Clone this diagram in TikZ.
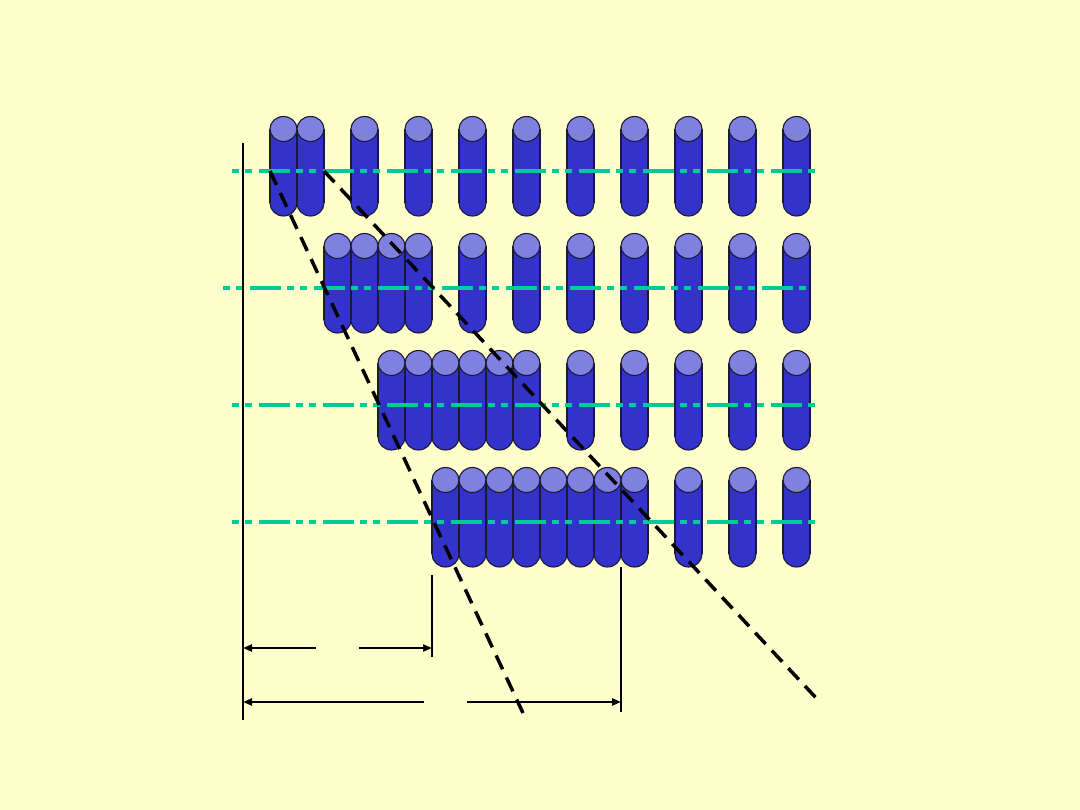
\documentclass[tikz,border=0pt]{standalone}
\usetikzlibrary{arrows.meta}
\definecolor{bg}{HTML}{FFFFCC}
\definecolor{cylbody}{HTML}{3333CC}
\definecolor{cyltop}{HTML}{8080E0}
\definecolor{cyledge}{HTML}{1A1A33}
\definecolor{axisgreen}{HTML}{00CC99}
\tikzset{
  cyl/.pic={
    \filldraw[fill=cylbody,draw=cyledge,line width=1.1pt] (0,74) ellipse[x radius=13.5,y radius=13];
    \fill[cylbody] (-13.5,0) rectangle (13.5,74);
    \draw[cyledge,line width=1.1pt] (-13.5,0) -- (-13.5,74) (13.5,0) -- (13.5,74);
    \filldraw[fill=cyltop,draw=cyledge,line width=1.1pt] (0,0) ellipse[x radius=13.5,y radius=12.5];
  },
  axisline/.style={axisgreen,line width=3.5pt,
    dash pattern=on 31pt off 6.5pt on 6.5pt off 6.5pt on 6.5pt off 7pt,dash phase=37.5pt},
  slantline/.style={black,line width=3.5pt,dash pattern=on 15.3pt off 9pt},
  refline/.style={black,line width=2.2pt},
  dimarrow/.style={black,line width=2.2pt,-{Triangle[length=9pt,width=7pt]}}
}
\begin{document}
\begin{tikzpicture}[x=1pt,y=-1pt]
\fill[bg] (0,0) rectangle (1080,810);
\useasboundingbox (0,0) rectangle (1080,810);
% row 1
\foreach \x in {283.5,310.5,364.5,418.5,472.5,526.5,580.5,634.5,688.5,742.5,796.5}
  \pic at (\x,129) {cyl};
% row 2
\foreach \x in {337.5,364.5,391.5,418.5,472.5,526.5,580.5,634.5,688.5,742.5,796.5}
  \pic at (\x,246) {cyl};
% row 3
\foreach \x in {391.5,418.5,445.5,472.5,499.5,526.5,580.5,634.5,688.5,742.5,796.5}
  \pic at (\x,363) {cyl};
% row 4
\foreach \x in {445.5,472.5,499.5,526.5,553.5,580.5,607.5,634.5,688.5,742.5,796.5}
  \pic at (\x,480) {cyl};
% axes
\coordinate (g1a) at (232,171); \coordinate (g1b) at (817,171);
\coordinate (g2a) at (223,288); \coordinate (g2b) at (808,288);
\coordinate (g3a) at (232,405); \coordinate (g3b) at (817,405);
\coordinate (g4a) at (232,522); \coordinate (g4b) at (817,522);
\draw[axisline] (g1a) -- (g1b);
\draw[axisline] (g2a) -- (g2b);
\draw[axisline] (g3a) -- (g3b);
\draw[axisline] (g4a) -- (g4b);
% reference lines
\coordinate (v0a) at (243,143); \coordinate (v0b) at (243,720);
\coordinate (v1a) at (432,575); \coordinate (v1b) at (432,657);
\coordinate (v2a) at (621,567); \coordinate (v2b) at (621,712);
\draw[refline] (v0a) -- (v0b);
\draw[refline] (v1a) -- (v1b);
\draw[refline] (v2a) -- (v2b);
% dimension arrows
\coordinate (a1l) at (243,648); \coordinate (a1m) at (316,648);
\coordinate (a1n) at (359,648); \coordinate (a1r) at (432,648);
\coordinate (a2l) at (243,702); \coordinate (a2m) at (424,702);
\coordinate (a2n) at (467,702); \coordinate (a2r) at (621,702);
\draw[dimarrow] (a1m) -- (a1l);
\draw[dimarrow] (a1n) -- (a1r);
\draw[dimarrow] (a2m) -- (a2l);
\draw[dimarrow] (a2n) -- (a2r);
% slanted dashed lines
\coordinate (s1a) at (270,171); \coordinate (s1b) at (523,713);
\coordinate (s2a) at (324,171); \coordinate (s2b) at (818,700);
\draw[slantline] (s1a) -- (s1b);
\draw[slantline] (s2a) -- (s2b);
\end{tikzpicture}
\end{document}
